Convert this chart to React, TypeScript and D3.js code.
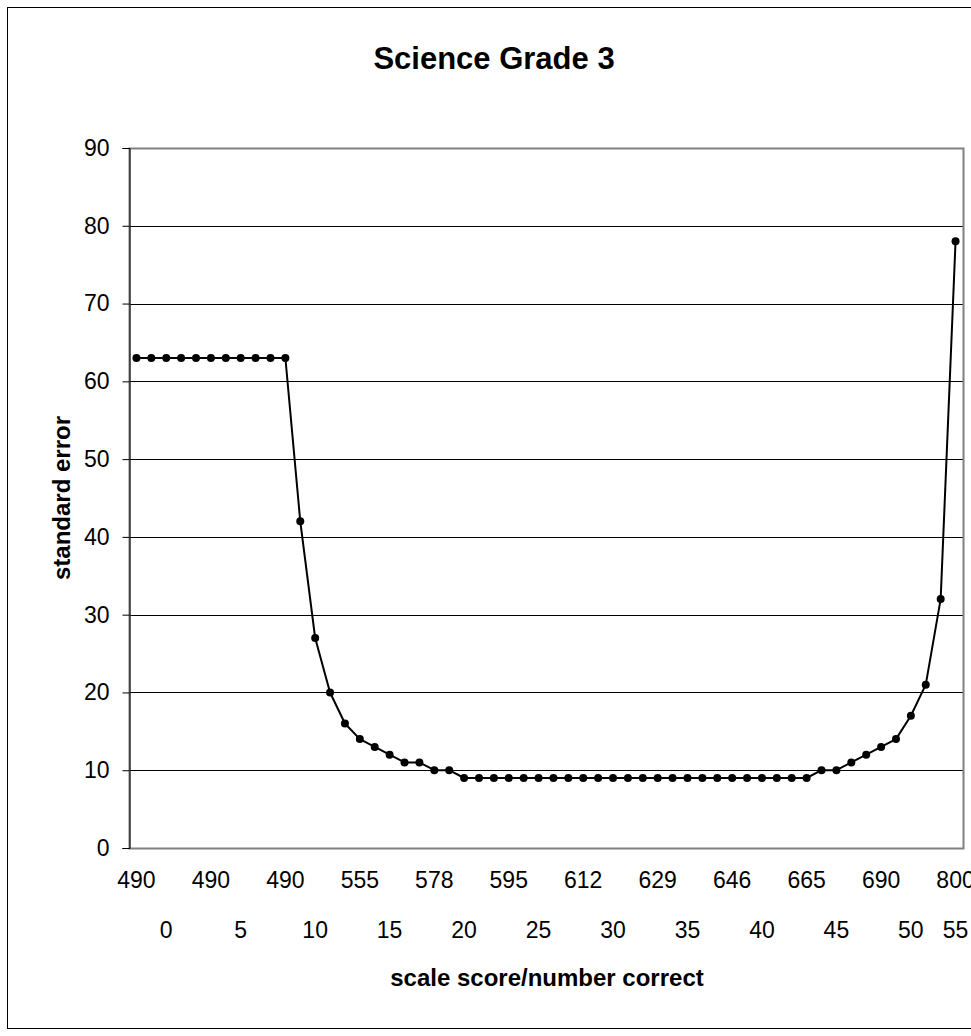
import { useEffect, useRef } from "react";
import * as d3 from "d3";

// standard error per category (number correct 0..55)
const standardError = [
  63, 63, 63, 63, 63, 63, 63, 63, 63, 63, 63,
  42, 27, 20, 16, 14, 13, 12, 11, 11, 10, 10,
  9, 9, 9, 9, 9, 9, 9, 9, 9, 9, 9, 9,
  9, 9, 9, 9, 9, 9, 9, 9, 9, 9, 9, 9,
  10, 10, 11, 12, 13, 14, 17, 21, 32, 78,
];
const categories = standardError.map((_, i) => i);

// top row of x labels: scale score, every 5th category
const scaleScoreLabels = ["490", "490", "490", "555", "578", "595", "612", "629", "646", "665", "690", "800"];
const scaleScoreAt = [0, 5, 10, 15, 20, 25, 30, 35, 40, 45, 50, 55];

// second row: number correct, placed by hand in the original
const numberCorrectLabels = ["0", "5", "10", "15", "20", "25", "30", "35", "40", "45", "50", "55"];
const numberCorrectAt = [2, 7, 12, 17, 22, 27, 32, 37, 42, 47, 52, 55];

const yTicks = [0, 10, 20, 30, 40, 50, 60, 70, 80, 90];

const FONT = "'Liberation Sans', Arial, sans-serif";

export default function App() {
  const svgRef = useRef<SVGSVGElement>(null);
  const W = 971, H = 1036;
  const m = { top: 148, right: 8, bottom: 188, left: 129 };
  const x0 = m.left, x1 = W - m.right, y0 = H - m.bottom, y1 = m.top;

  useEffect(() => {
    if (!svgRef.current) return;
    const svg = d3.select(svgRef.current);
    svg.selectAll("*").remove();

    const x = d3.scalePoint<number>().domain(categories).range([x0, x1]).padding(0.5);
    const y = d3.scaleLinear().domain([0, 90]).range([y0, y1]);

    /* outer chart frame */
    svg.append("rect")
      .attr("x", 7.5).attr("y", 7.5).attr("width", W + 20).attr("height", 1021)
      .attr("fill", "#fff").attr("stroke", "#000").attr("stroke-width", 1);

    /* title */
    svg.append("text")
      .attr("x", 494).attr("y", 69)
      .attr("text-anchor", "middle")
      .attr("font-family", FONT).attr("font-weight", "bold").attr("font-size", 31)
      .text("Science Grade 3");

    /* grid */
    svg.append("g").selectAll("line")
      .data(yTicks.filter(t => t > 0 && t < 90))
      .join("line")
      .attr("x1", x0).attr("x2", x1)
      .attr("y1", d => Math.round(y(d)) + 0.5).attr("y2", d => Math.round(y(d)) + 0.5)
      .attr("stroke", "#000").attr("stroke-width", 1);

    /* plot area border (gray) */
    svg.append("rect")
      .attr("x", x0 + 0.5).attr("y", y1 + 0.5)
      .attr("width", x1 - x0).attr("height", y0 - y1)
      .attr("fill", "none").attr("stroke", "#808080").attr("stroke-width", 2);

    /* y axis */
    const yAxis = d3.axisLeft(y).tickValues(yTicks).tickSize(7).tickPadding(13);
    svg.append("g")
      .attr("transform", `translate(${x0 + 0.5},0)`)
      .call(yAxis as any)
      .call((a: any) => a.select(".domain").attr("stroke", "#000").attr("stroke-width", 1))
      .call((a: any) => a.selectAll(".tick line").attr("stroke", "#000"))
      .call((a: any) => a.selectAll("text")
        .attr("font-family", FONT).attr("font-size", 23).attr("fill", "#000"));

    /* x labels, two rows */
    svg.append("g").selectAll("text")
      .data(scaleScoreLabels)
      .join("text")
      .attr("x", (_, i) => x(scaleScoreAt[i]) as number)
      .attr("y", y0 + 40)
      .attr("text-anchor", "middle")
      .attr("font-family", FONT).attr("font-size", 23)
      .text(d => d);

    svg.append("g").selectAll("text")
      .data(numberCorrectLabels)
      .join("text")
      .attr("x", (_, i) => x(numberCorrectAt[i]) as number)
      .attr("y", y0 + 90)
      .attr("text-anchor", "middle")
      .attr("font-family", FONT).attr("font-size", 23)
      .text(d => d);

    /* axis titles */
    svg.append("text")
      .attr("transform", `translate(70,${(y0 + y1) / 2}) rotate(-90)`)
      .attr("text-anchor", "middle")
      .attr("font-family", FONT).attr("font-weight", "bold").attr("font-size", 24)
      .text("standard error");

    svg.append("text")
      .attr("x", 547).attr("y", 986)
      .attr("text-anchor", "middle")
      .attr("font-family", FONT).attr("font-weight", "bold").attr("font-size", 24)
      .text("scale score/number correct");

    /* line + markers */
    const line = d3.line<number>()
      .x((_, i) => x(categories[i]) as number)
      .y(d => y(d));

    svg.append("path")
      .attr("d", line(standardError) ?? "")
      .attr("fill", "none").attr("stroke", "#000").attr("stroke-width", 2)
      .attr("stroke-linejoin", "round");

    svg.append("g").selectAll("circle")
      .data(standardError)
      .join("circle")
      .attr("cx", (_, i) => x(categories[i]) as number)
      .attr("cy", d => y(d))
      .attr("r", 4)
      .attr("fill", "#000");
  }, [x0, x1, y0, y1]);

  return (
    <svg
      ref={svgRef}
      width={W}
      height={H}
      style={{ position: "absolute", left: 0, top: 0, display: "block", background: "#fff" }}
    />
  );
}
